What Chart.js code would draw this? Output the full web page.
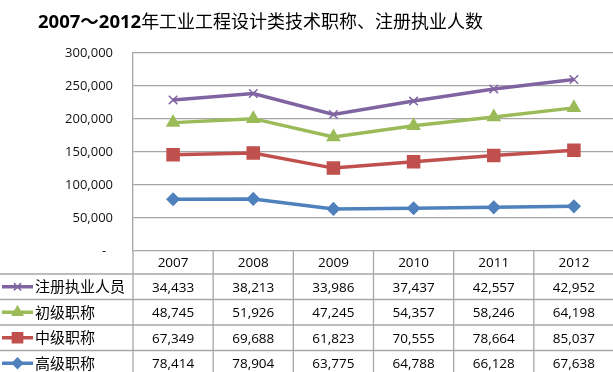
<!DOCTYPE html>
<html>
<head>
<meta charset="utf-8">
<script src="https://cdn.jsdelivr.net/npm/chart.js@4.4.0/dist/chart.umd.min.js"></script>
<style>
  html, body { margin: 0; padding: 0; overflow: hidden; background: #fff; width: 613px; height: 372px; }
  #wrap { position: relative; width: 613px; height: 372px; overflow: hidden; }
  #c { position: absolute; left: 0; top: 0; }
  #title { position: absolute; left: 38px; top: 10px; font-size: 18px; line-height: 20px; white-space: nowrap; color: #000;
           font-family: "Noto Sans CJK SC", sans-serif; }
  #title b { font-family: "Open Sans", "Noto Sans CJK SC", sans-serif; font-weight: 700; font-size: 18.5px; }
</style>
</head>
<body>
<div id="wrap">
  <canvas id="c" width="624" height="372"></canvas>
  <div id="title"><b>2007～2012</b>年工业工程设计类技术职称、注册执业人数</div>
</div>
<script>
// ---- data ----
const categories = ['2007', '2008', '2009', '2010', '2011', '2012'];
const seniorTitle = [78414, 78904, 63775, 64788, 66128, 67638];   // 高级职称
const middleTitle = [67349, 69688, 61823, 70555, 78664, 85037];   // 中级职称
const juniorTitle = [48745, 51926, 47245, 54357, 58246, 64198];   // 初级职称
const registered  = [34433, 38213, 33986, 37437, 42557, 42952];   // 注册执业人员
const yTicks = [0, 50000, 100000, 150000, 200000, 250000, 300000];

const fmt = v => String(v).replace(/\B(?=(\d{3})+(?!\d))/g, ',');

const series = [
  { label: '高级职称',     data: seniorTitle, color: '#4f81bd', style: 'rectRot',  radius: 6 },
  { label: '中级职称',     data: middleTitle, color: '#c0504d', style: 'rect',     radius: 8.5 },
  { label: '初级职称',     data: juniorTitle, color: '#9bbb59', style: 'triangle', radius: 7 },
  { label: '注册执业人员', data: registered,  color: '#8064a2', style: 'crossRot', radius: 6 }
];

const tablePlugin = {
  id: 'dataTable',
  afterDraw(chart) {
    const ctx = chart.ctx;
    const xs = chart.scales.x;
    const area = chart.chartArea;
    const colW = xs.getPixelForValue(1) - xs.getPixelForValue(0);
    const left = xs.getPixelForValue(0) - colW / 2;
    const right = left + colW * categories.length;
    const top = area.bottom;
    const headerH = 23;
    const rowH = 25.5;
    const H = chart.height;
    ctx.save();
    ctx.strokeStyle = '#a6a6a6';
    ctx.lineWidth = 1.3;
    // horizontal lines
    for (let r = 0; r <= 4; r++) {
      const y = top + headerH + r * rowH;
      ctx.beginPath(); ctx.moveTo(0, y); ctx.lineTo(right, y); ctx.stroke();
    }
    // vertical lines
    for (let i = 0; i <= categories.length; i++) {
      const x = left + i * colW;
      ctx.beginPath(); ctx.moveTo(x, top); ctx.lineTo(x, H); ctx.stroke();
    }
    ctx.fillStyle = '#000';
    ctx.textAlign = 'center';
    ctx.textBaseline = 'middle';
    ctx.font = '13.5px "Open Sans", sans-serif';
    categories.forEach((c, i) => ctx.fillText(c, xs.getPixelForValue(i), top + headerH / 2 + 1));
    // rows, top to bottom: reversed series order
    const rows = series.slice().reverse();
    rows.forEach((s, r) => {
      const cy = top + headerH + r * rowH + rowH / 2;
      // legend marker
      ctx.strokeStyle = s.color;
      ctx.fillStyle = s.color;
      ctx.lineWidth = 3.5;
      ctx.beginPath(); ctx.moveTo(2, cy); ctx.lineTo(33, cy); ctx.stroke();
      if (Chart.helpers && Chart.helpers.drawPoint) {
        ctx.lineWidth = 1.5;
        Chart.helpers.drawPoint(ctx, { pointStyle: s.style, rotation: 0, radius: s.radius * 0.85, borderWidth: 1.5 }, 17.5, cy);
      }
      ctx.fillStyle = '#000';
      ctx.textAlign = 'left';
      ctx.font = '15px "Noto Sans CJK SC", sans-serif';
      ctx.fillText(s.label, 35, cy);
      ctx.textAlign = 'center';
      ctx.font = '13.5px "Open Sans", sans-serif';
      s.data.forEach((v, i) => ctx.fillText(fmt(v), xs.getPixelForValue(i), cy + 1));
    });
    ctx.restore();
  }
};

new Chart(document.getElementById('c'), {
  type: 'line',
  data: {
    labels: categories,
    datasets: series.map(s => ({
      label: s.label,
      data: s.data,
      borderColor: s.color,
      backgroundColor: s.color,
      borderWidth: 3.5,
      pointStyle: s.style,
      pointRadius: s.radius,
      pointBorderWidth: 1.5,
      pointBorderColor: s.color,
      pointBackgroundColor: s.color,
      fill: false,
      tension: 0
    }))
  },
  options: {
    responsive: false,
    animation: false,
    devicePixelRatio: 1,
    layout: { padding: { top: 53, bottom: 121, left: 0, right: 0 } },
    plugins: { legend: { display: false }, title: { display: false }, tooltip: { enabled: false } },
    scales: {
      x: { display: false, offset: true },
      y: {
        stacked: true,
        min: 0, max: 300000,
        afterBuildTicks: s => { s.ticks = yTicks.map(v => ({ value: v })); },
        afterFit: s => { s.width = 133; },
        grid: { color: '#a6a6a6', lineWidth: 1.3, drawTicks: false },
        border: { display: true, color: '#a6a6a6', width: 1.3 },
        ticks: {
          padding: 20,
          color: '#111',
          font: { family: '"Open Sans", sans-serif', size: 13 },
          callback: v => v === 0 ? '-  ' : fmt(v)
        }
      }
    }
  },
  plugins: [tablePlugin]
});
</script>
</body>
</html>
